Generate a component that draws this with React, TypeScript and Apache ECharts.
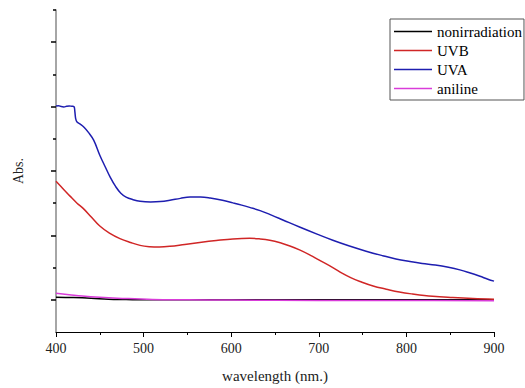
import React, { useEffect, useRef } from "react";
import * as echarts from "echarts";

const seriesNames = ["nonirradiation", "UVB", "UVA", "aniline"];
const seriesColors = ["#000000", "#d02626", "#1e1eb0", "#d93cd9"];

const nonirradiation: number[][] = [
  [400, 0.008], [420, 0.007], [440, 0.005], [460, 0.002], [480, 0.001], [500, 0.0],
  [600, 0.0], [700, 0.0], [800, 0.0], [900, 0.0],
];

const uvb: number[][] = [
  [400, 0.368], [408, 0.345], [416, 0.322], [424, 0.3], [431, 0.284], [440, 0.258],
  [450, 0.229], [461, 0.207], [473, 0.19], [485, 0.178], [496, 0.169], [507, 0.165],
  [518, 0.164], [530, 0.166], [547, 0.172], [564, 0.178], [583, 0.184], [602, 0.189],
  [621, 0.191], [633, 0.189], [644, 0.185], [656, 0.177], [667, 0.167], [678, 0.155],
  [690, 0.139], [700, 0.124], [716, 0.1], [727, 0.082], [737, 0.068], [747, 0.057],
  [762, 0.043], [777, 0.033], [792, 0.024], [807, 0.018], [830, 0.011], [853, 0.007],
  [876, 0.004], [900, 0.002],
];

const uva: number[][] = [
  [400, 0.602], [403, 0.603], [406, 0.6], [409, 0.599], [412, 0.601], [415, 0.602],
  [418, 0.601], [420.5, 0.6], [421.5, 0.585], [422.5, 0.562], [424, 0.552], [428, 0.545],
  [432, 0.536], [437, 0.52], [443, 0.496], [450, 0.449], [456, 0.414], [462, 0.38],
  [468, 0.352], [474, 0.331], [480, 0.319], [488, 0.311], [496, 0.306], [508, 0.304],
  [519, 0.305], [530, 0.309], [542, 0.315], [553, 0.319], [565, 0.319], [576, 0.316],
  [590, 0.309], [602, 0.301], [612, 0.294], [621, 0.287], [633, 0.277], [646, 0.263],
  [659, 0.248], [678, 0.226], [698, 0.204], [716, 0.185], [735, 0.167], [754, 0.151],
  [773, 0.137], [788, 0.127], [804, 0.119], [818, 0.113], [833, 0.108], [848, 0.101],
  [861, 0.093], [872, 0.084], [884, 0.073], [893, 0.064], [900, 0.058],
];

const aniline: number[][] = [
  [400, 0.02], [415, 0.016], [430, 0.012], [450, 0.008], [470, 0.005], [490, 0.003],
  [510, 0.001], [550, 0.0], [600, -0.001], [700, -0.002], [800, -0.002], [900, -0.003],
];

const xTicks = [400, 500, 600, 700, 800, 900];
const yMajorTicks = [0, 0.2, 0.4, 0.6, 0.8];
const yMinorTicks = [0.1, 0.3, 0.5, 0.7, 0.9];

const FONT = "'Liberation Serif', 'Times New Roman', serif";

export default function App() {
  const ref = useRef<HTMLDivElement>(null);
  useEffect(() => {
    if (!ref.current) return;
    const chart = echarts.init(ref.current, null, { renderer: "svg" });
    const data = [nonirradiation, uvb, uva, aniline];
    chart.setOption({
      animation: false,
      backgroundColor: "#ffffff",
      textStyle: { fontFamily: FONT },
      grid: { left: 56, right: 31, top: 10, bottom: 55 },
      legend: {
        orient: "vertical",
        left: 390,
        top: 19,
        padding: [3, 2, 2, 4],
        icon: "rect",
        itemWidth: 38,
        itemHeight: 1.6,
        itemGap: 0,
        itemTextGap: 3,
        borderColor: "#555",
        borderWidth: 1,
        backgroundColor: "#fff",
        textStyle: { fontFamily: FONT, fontSize: 15, color: "#000", lineHeight: 19 },
        data: seriesNames,
      },
      xAxis: {
        type: "value",
        min: xTicks[0],
        max: xTicks[xTicks.length - 1],
        interval: 100,
        name: "wavelength (nm.)",
        nameLocation: "middle",
        nameGap: 36,
        nameTextStyle: { fontFamily: FONT, fontSize: 15, color: "#222" },
        axisLine: { show: true, onZero: false, lineStyle: { color: "#000", width: 1 } },
        axisTick: { show: true, length: 5, lineStyle: { color: "#000" } },
        minorTick: { show: true, splitNumber: 2, length: 3, lineStyle: { color: "#000" } },
        axisLabel: { fontFamily: FONT, fontSize: 14, color: "#222", margin: 9 },
        splitLine: { show: false },
      },
      yAxis: [
        {
          type: "value",
          min: -0.1,
          max: 0.9,
          position: "left",
          name: "Abs.",
          nameLocation: "middle",
          nameGap: 31,
          nameTextStyle: { fontFamily: FONT, fontSize: 14, color: "#222" },
          axisLine: { show: true, onZero: false, lineStyle: { color: "#888", width: 1.5 } },
          axisTick: { show: true, length: 5, customValues: yMajorTicks, lineStyle: { color: "#000", width: 1.5 } },
          axisLabel: { show: false },
          splitLine: { show: false },
        },
        {
          type: "value",
          min: -0.1,
          max: 0.9,
          position: "left",
          axisLine: { show: false },
          axisTick: { show: true, length: 3, customValues: yMinorTicks, lineStyle: { color: "#000", width: 1.5 } },
          axisLabel: { show: false },
          splitLine: { show: false },
        },
      ],
      series: data.map((d, i) => ({
        name: seriesNames[i],
        type: "line",
        data: d,
        yAxisIndex: 0,
        symbol: "none",
        showSymbol: false,
        smooth: 0.4,
        lineStyle: { color: seriesColors[i], width: 1.5 },
        itemStyle: { color: seriesColors[i] },
      })),
    });
    return () => chart.dispose();
  }, []);
  return (
    <div
      ref={ref}
      style={{ position: "fixed", left: 0, top: 0, width: 525, height: 388, background: "#fff" }}
    />
  );
}
